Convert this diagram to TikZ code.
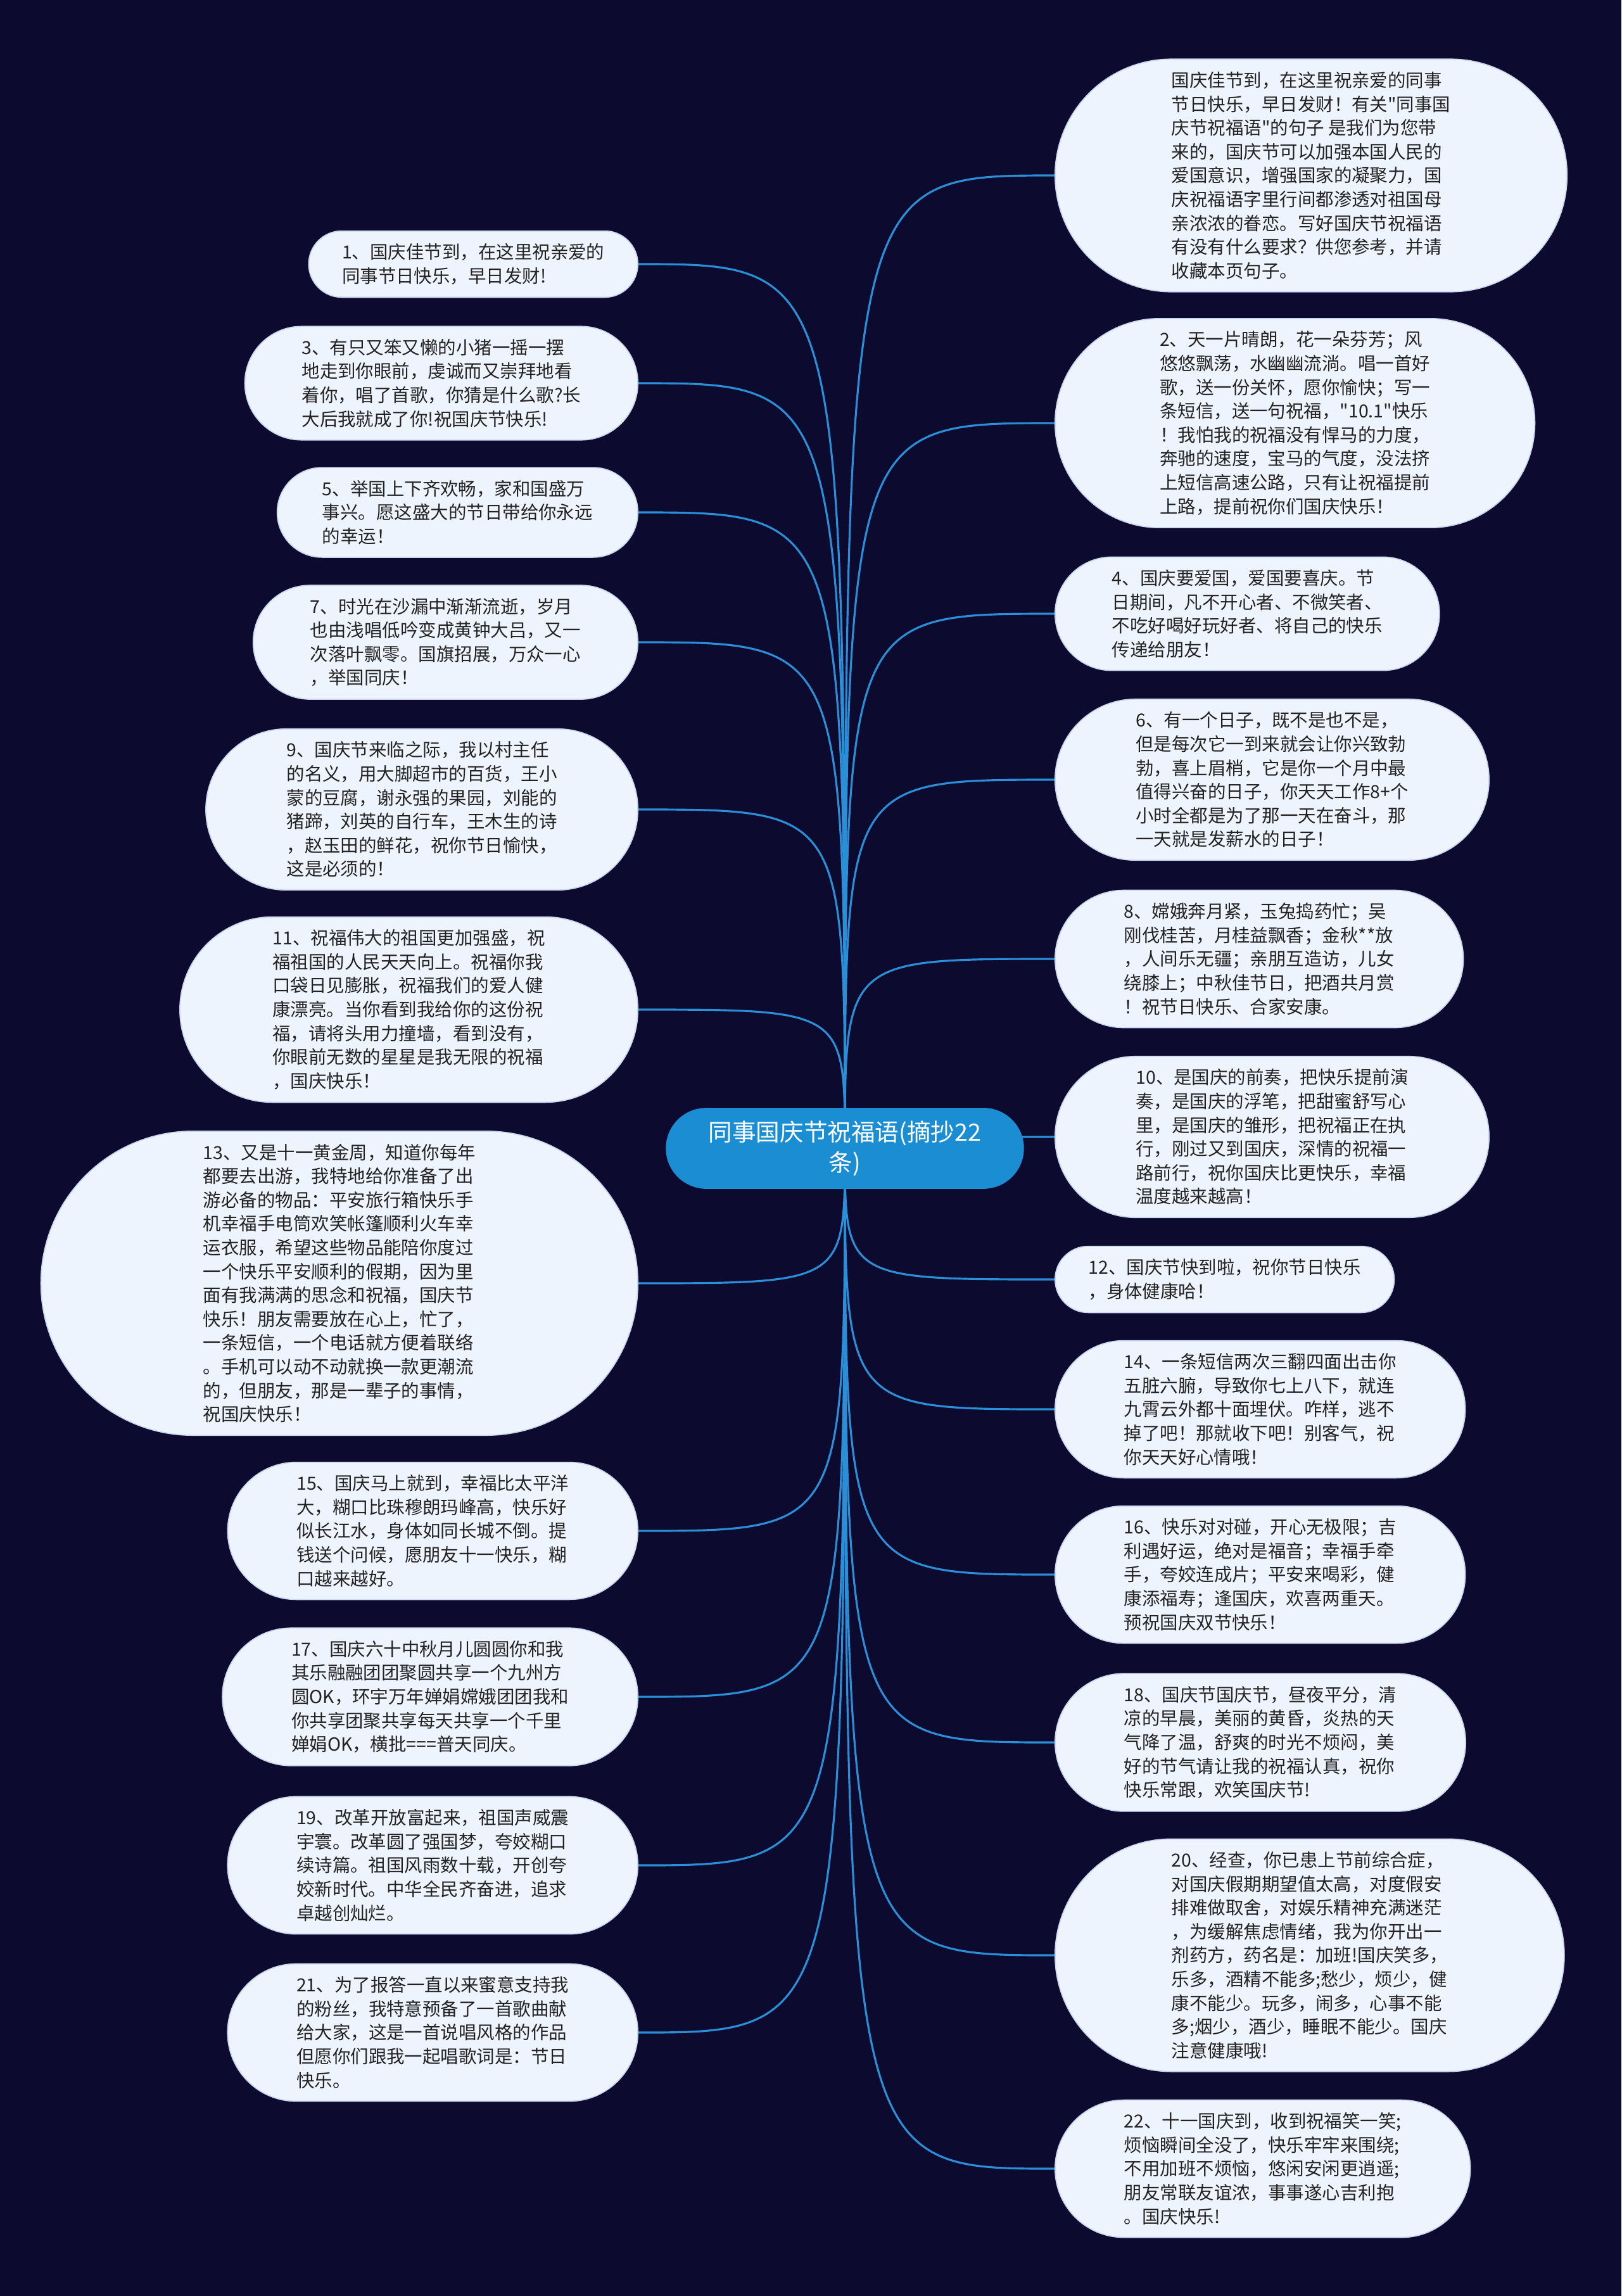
\documentclass[tikz,border=0pt]{standalone}
\usepackage{fontspec}
\setmainfont{Noto Sans CJK SC}[Ligatures=TeXOff]
\usepackage{tikz}
\usetikzlibrary{shapes.misc}
\definecolor{night}{HTML}{0C0A2E}
\definecolor{topicblue}{HTML}{1B8ED3}
\definecolor{linkblue}{HTML}{2A8FD6}
\definecolor{paper}{HTML}{EEF4FD}
\definecolor{paperline}{HTML}{C8D6EE}
\definecolor{ink}{HTML}{222222}
\newcommand{\dq}{\symbol{34}}

\begin{document}
\begin{tikzpicture}[
  wish/.style={rounded rectangle,draw=paperline,fill=paper,line width=0.5pt,
    text=ink,align=left,inner xsep=#1,inner ysep=2mm,
    font=\fontsize{8.1pt}{10.7pt}\selectfont},
  topic/.style={rounded rectangle,fill=topicblue,text=white,align=center,
    inner xsep=5mm,inner ysep=2mm,font=\fontsize{10.7pt}{13.8pt}\selectfont},
  link/.style={draw=linkblue,line width=0.9pt}
]
\fill[night] (0,0) rectangle (25.6,-36.25);
\useasboundingbox (0,0) rectangle (25.6,-36.25);
\coordinate (hub) at (13.34,-18.13);

% left side
\node[wish=4.15mm,anchor=east] (w1) at (10.08,-4.17)
  {1、国庆佳节到，在这里祝亲爱的\\同事节日快乐，早日发财!};
\node[wish=5.68mm,anchor=east] (w3) at (10.08,-6.05)
  {3、有只又笨又懒的小猪一摇一摆\\地走到你眼前，虔诚而又崇拜地看\\着你，唱了首歌，你猜是什么歌?长\\大后我就成了你!祝国庆节快乐!};
\node[wish=4.97mm,anchor=east] (w5) at (10.08,-8.09)
  {5、举国上下齐欢畅，家和国盛万\\事兴。愿这盛大的节日带给你永远\\的幸运！};
\node[wish=5.68mm,anchor=east] (w7) at (10.08,-10.14)
  {7、时光在沙漏中渐渐流逝，岁月\\也由浅唱低吟变成黄钟大吕，又一\\次落叶飘零。国旗招展，万众一心\\，举国同庆！};
\node[wish=6.88mm,anchor=east] (w9) at (10.08,-12.78)
  {9、国庆节来临之际，我以村主任\\的名义，用大脚超市的百货，王小\\蒙的豆腐，谢永强的果园，刘能的\\猪蹄，刘英的自行车，王木生的诗\\，赵玉田的鲜花，祝你节日愉快，\\这是必须的！};
\node[wish=7.4mm,anchor=east] (w11) at (10.08,-15.94)
  {11、祝福伟大的祖国更加强盛，祝\\福祖国的人民天天向上。祝福你我\\口袋日见膨胀，祝福我们的爱人健\\康漂亮。当你看到我给你的这份祝\\福，请将头用力撞墙，看到没有，\\你眼前无数的星星是我无限的祝福\\，国庆快乐！};
\node[wish=11.2mm,anchor=east] (w13) at (10.08,-20.26)
  {13、又是十一黄金周，知道你每年\\都要去出游，我特地给你准备了出\\游必备的物品：平安旅行箱快乐手\\机幸福手电筒欢笑帐篷顺利火车幸\\运衣服，希望这些物品能陪你度过\\一个快乐平安顺利的假期，因为里\\面有我满满的思念和祝福，国庆节\\快乐！朋友需要放在心上，忙了，\\一条短信，一个电话就方便着联络\\。手机可以动不动就换一款更潮流\\的，但朋友，那是一辈子的事情，\\祝国庆快乐！};
\node[wish=6.31mm,anchor=east] (w15) at (10.08,-24.17)
  {15、国庆马上就到，幸福比太平洋\\大，糊口比珠穆朗玛峰高，快乐好\\似长江水，身体如同长城不倒。提\\钱送个问候，愿朋友十一快乐，糊\\口越来越好。};
\node[wish=6.31mm,anchor=east] (w17) at (10.08,-26.79)
  {17、国庆六十中秋月儿圆圆你和我\\其乐融融团团聚圆共享一个九州方\\圆OK，环宇万年婵娟嫦娥团团我和\\你共享团聚共享每天共享一个千里\\婵娟OK，横批===普天同庆。};
\node[wish=6.31mm,anchor=east] (w19) at (10.08,-29.45)
  {19、改革开放富起来，祖国声威震\\宇寰。改革圆了强国梦，夸姣糊口\\续诗篇。祖国风雨数十载，开创夸\\姣新时代。中华全民齐奋进，追求\\卓越创灿烂。};
\node[wish=6.31mm,anchor=east] (w21) at (10.08,-32.09)
  {21、为了报答一直以来蜜意支持我\\的粉丝，我特意预备了一首歌曲献\\给大家，这是一首说唱风格的作品\\但愿你们跟我一起唱歌词是：节日\\快乐。};

% right side
\node[wish=8.36mm,anchor=west] (w0) at (16.65,-2.77)
  {国庆佳节到，在这里祝亲爱的同事\\节日快乐，早日发财！有关\dq 同事国\\庆节祝福语\dq 的句子 是我们为您带\\来的，国庆节可以加强本国人民的\\爱国意识，增强国家的凝聚力，国\\庆祝福语字里行间都渗透对祖国母\\亲浓浓的眷恋。写好国庆节祝福语\\有没有什么要求？供您参考，并请\\收藏本页句子。};
\node[wish=7.89mm,anchor=west] (w2) at (16.65,-6.68)
  {2、天一片晴朗，花一朵芬芳；风\\悠悠飘荡，水幽幽流淌。唱一首好\\歌，送一份关怀，愿你愉快；写一\\条短信，送一句祝福，\dq 10.1\dq 快乐\\！我怕我的祝福没有悍马的力度，\\奔驰的速度，宝马的气度，没法挤\\上短信高速公路，只有让祝福提前\\上路，提前祝你们国庆快乐！};
\node[wish=5.68mm,anchor=west] (w4) at (16.65,-9.69)
  {4、国庆要爱国，爱国要喜庆。节\\日期间，凡不开心者、不微笑者、\\不吃好喝好玩好者、将自己的快乐\\传递给朋友！};
\node[wish=6.88mm,anchor=west] (w6) at (16.65,-12.31)
  {6、有一个日子，既不是也不是，\\但是每次它一到来就会让你兴致勃\\勃，喜上眉梢，它是你一个月中最\\值得兴奋的日子，你天天工作8+个\\小时全都是为了那一天在奋斗，那\\一天就是发薪水的日子！};
\node[wish=6.31mm,anchor=west] (w8) at (16.65,-15.14)
  {8、嫦娥奔月紧，玉兔捣药忙；吴\\刚伐桂苦，月桂益飘香；金秋**放\\，人间乐无疆；亲朋互造访，儿女\\绕膝上；中秋佳节日，把酒共月赏\\！祝节日快乐、合家安康。};
\node[wish=6.88mm,anchor=west] (w10) at (16.65,-17.95)
  {10、是国庆的前奏，把快乐提前演\\奏，是国庆的浮笔，把甜蜜舒写心\\里，是国庆的雏形，把祝福正在执\\行，刚过又到国庆，深情的祝福一\\路前行，祝你国庆比更快乐，幸福\\温度越来越高！};
\node[wish=4.15mm,anchor=west] (w12) at (16.65,-20.20)
  {12、国庆节快到啦，祝你节日快乐\\，身体健康哈！};
\node[wish=6.31mm,anchor=west] (w14) at (16.65,-22.25)
  {14、一条短信两次三翻四面出击你\\五脏六腑，导致你七上八下，就连\\九霄云外都十面埋伏。咋样，逃不\\掉了吧！那就收下吧！别客气，祝\\你天天好心情哦！};
\node[wish=6.31mm,anchor=west] (w16) at (16.65,-24.86)
  {16、快乐对对碰，开心无极限；吉\\利遇好运，绝对是福音；幸福手牵\\手，夸姣连成片；平安来喝彩，健\\康添福寿；逢国庆，欢喜两重天。\\预祝国庆双节快乐！};
\node[wish=6.31mm,anchor=west] (w18) at (16.65,-27.51)
  {18、国庆节国庆节，昼夜平分，清\\凉的早晨，美丽的黄昏，炎热的天\\气降了温，舒爽的时光不烦闷，美\\好的节气请让我的祝福认真，祝你\\快乐常跟，欢笑国庆节!};
\node[wish=8.36mm,anchor=west] (w20) at (16.65,-30.87)
  {20、经查，你已患上节前综合症，\\对国庆假期期望值太高，对度假安\\排难做取舍，对娱乐精神充满迷茫\\，为缓解焦虑情绪，我为你开出一\\剂药方，药名是：加班!国庆笑多，\\乐多，酒精不能多;愁少，烦少，健\\康不能少。玩多，闹多，心事不能\\多;烟少，酒少，睡眠不能少。国庆\\注意健康哦!};
\node[wish=6.31mm,anchor=west] (w22) at (16.65,-34.24)
  {22、十一国庆到，收到祝福笑一笑;\\烦恼瞬间全没了，快乐牢牢来围绕;\\不用加班不烦恼，悠闲安闲更逍遥;\\朋友常联友谊浓，事事遂心吉利抱\\。国庆快乐!};

% links
\draw[link] (hub) .. controls (hub |- w1.east) .. (w1.east);
\draw[link] (hub) .. controls (hub |- w3.east) .. (w3.east);
\draw[link] (hub) .. controls (hub |- w5.east) .. (w5.east);
\draw[link] (hub) .. controls (hub |- w7.east) .. (w7.east);
\draw[link] (hub) .. controls (hub |- w9.east) .. (w9.east);
\draw[link] (hub) .. controls (hub |- w11.east) .. (w11.east);
\draw[link] (hub) .. controls (hub |- w13.east) .. (w13.east);
\draw[link] (hub) .. controls (hub |- w15.east) .. (w15.east);
\draw[link] (hub) .. controls (hub |- w17.east) .. (w17.east);
\draw[link] (hub) .. controls (hub |- w19.east) .. (w19.east);
\draw[link] (hub) .. controls (hub |- w21.east) .. (w21.east);
\draw[link] (hub) .. controls (hub |- w0.west) .. (w0.west);
\draw[link] (hub) .. controls (hub |- w2.west) .. (w2.west);
\draw[link] (hub) .. controls (hub |- w4.west) .. (w4.west);
\draw[link] (hub) .. controls (hub |- w6.west) .. (w6.west);
\draw[link] (hub) .. controls (hub |- w8.west) .. (w8.west);
\draw[link] (hub) .. controls (hub |- w10.west) .. (w10.west);
\draw[link] (hub) .. controls (hub |- w12.west) .. (w12.west);
\draw[link] (hub) .. controls (hub |- w14.west) .. (w14.west);
\draw[link] (hub) .. controls (hub |- w16.west) .. (w16.west);
\draw[link] (hub) .. controls (hub |- w18.west) .. (w18.west);
\draw[link] (hub) .. controls (hub |- w20.west) .. (w20.west);
\draw[link] (hub) .. controls (hub |- w22.west) .. (w22.west);

\node[topic] (root) at (hub) {同事国庆节祝福语(摘抄22\\条)};
\end{tikzpicture}
\end{document}
